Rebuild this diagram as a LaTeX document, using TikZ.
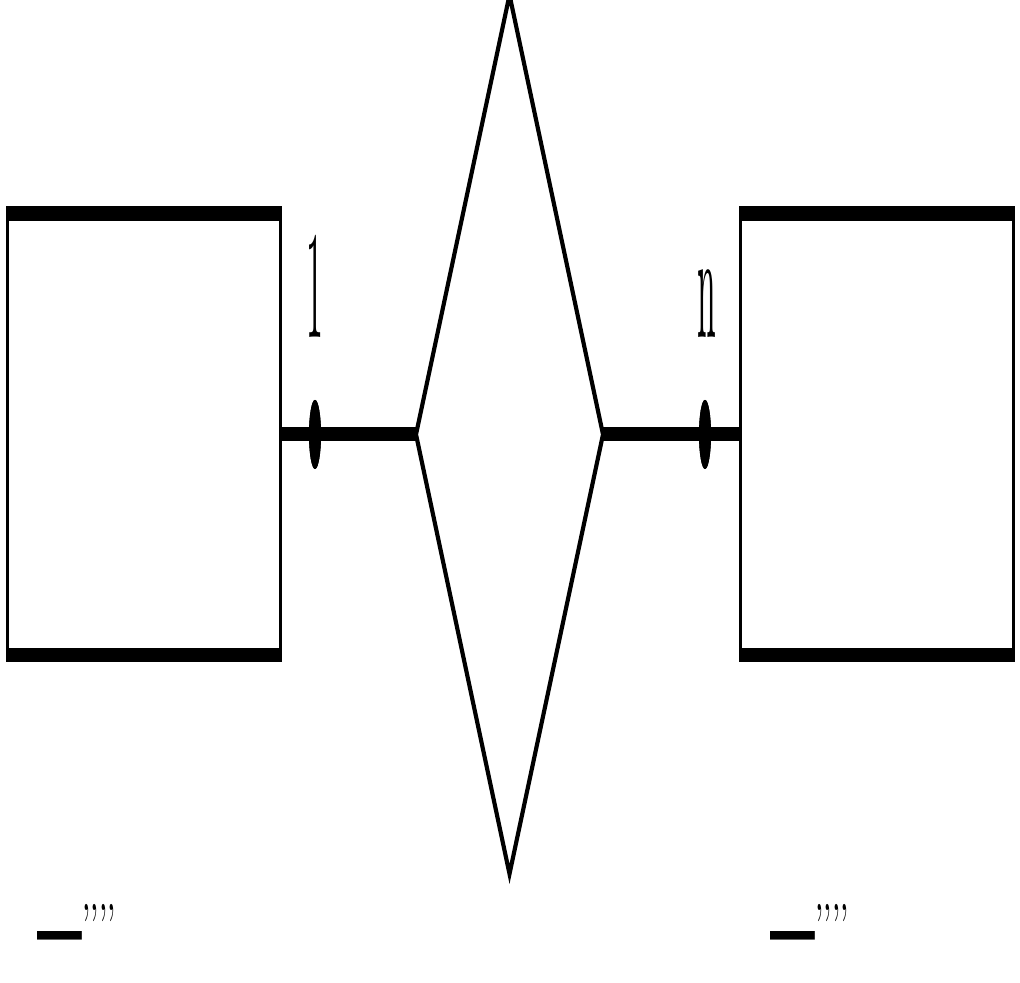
\documentclass[tikz,border=0pt]{standalone}
\usepackage{tikz}
\usepackage{graphicx}
\usetikzlibrary{shapes.geometric,positioning}
\definecolor{erInk}{RGB}{0,0,0}
\newcommand{\tickmarks}{\scalebox{1.7}[2]{\_}\raisebox{-0.108cm}{\scalebox{0.85}[0.35]{’’’’}}}

\begin{document}
\begin{tikzpicture}[
  entity/.style={draw=erInk,line width=0.03cm,minimum width=2.73cm,minimum height=0.94cm,inner sep=0pt,outer sep=0pt},
  relation/.style={draw=erInk,diamond,line width=0.03cm,minimum width=1.87cm,minimum height=1.87cm,inner sep=0pt,outer sep=0pt},
  link/.style={draw=erInk,line width=0.03cm},
  dot/.style={fill=erInk,ellipse,inner sep=0pt,minimum width=0.12cm,minimum height=0.147cm},
  card/.style={font=\fontsize{9.3}{11}\selectfont,anchor=base,inner sep=0pt},
  note/.style={font=\normalsize,anchor=base west,inner sep=0pt}
  ]
  \useasboundingbox (0,0) rectangle (10.2,9.82);
  \begin{scope}[transform canvas={yscale=4.7}]
    % entities and relation
    \node[entity] (left) at (1.435,1.165) {};
    \node[relation] (rel) at (5.095,1.165) {};
    \node[entity] (right) at (8.765,1.165) {};
    % cardinality marks
    \node[dot] (dl) at (3.15,1.165) {};
    \node[dot] (dr) at (7.05,1.165) {};
    \draw[link] (left.east) -- (rel.west);
    \draw[link] (rel.east) -- (right.west);
    \node[dot] at (dl) {};
    \node[dot] at (dr) {};
    \node[card] (one) at (3.15,1.371) {1};
    \node[card] (many) at (7.07,1.371) {n};
    % footer texts
    \node[note] (noteL) at (0.37,0.187) {\tickmarks};
    \node[note] (noteR) at (7.70,0.187) {\tickmarks};
  \end{scope}
\end{tikzpicture}
\end{document}
